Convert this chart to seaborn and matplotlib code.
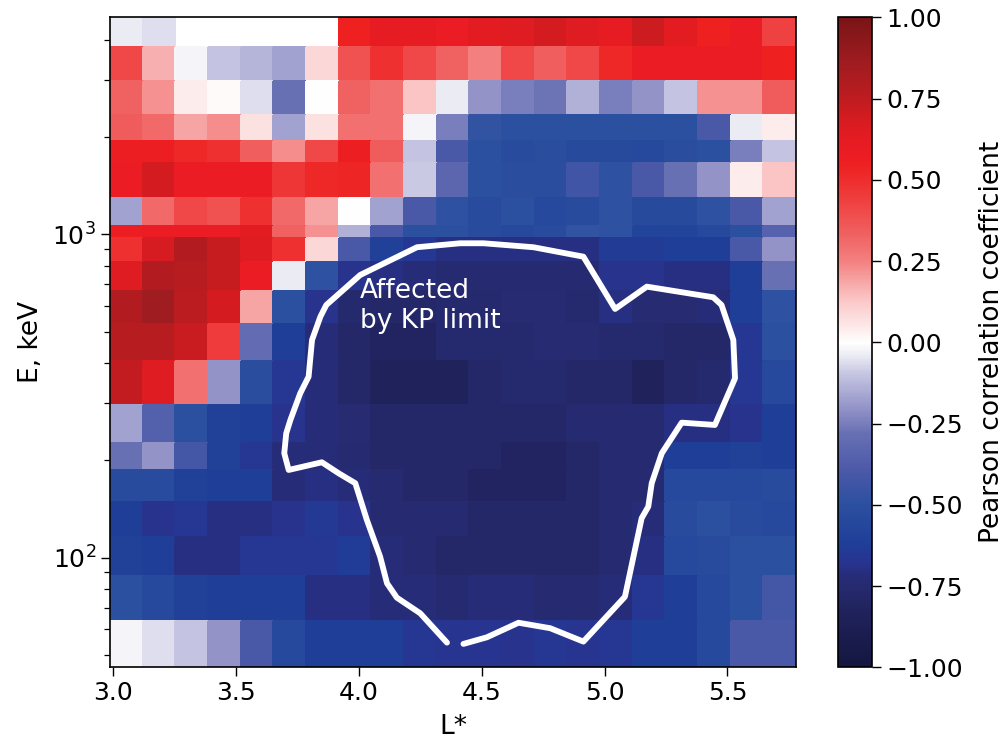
import numpy as np
import matplotlib
matplotlib.use("Agg")
import matplotlib.pyplot as plt
from matplotlib.colors import LinearSegmentedColormap
from matplotlib.ticker import FuncFormatter
import seaborn as sns

nan = np.nan

# L* bin edges (21 bins)
L_edges = [2.988, 3.121, 3.254, 3.387, 3.520, 3.653, 3.785, 3.918, 4.051, 4.184, 4.317,
           4.450, 4.583, 4.716, 4.849, 4.982, 5.115, 5.247, 5.380, 5.513, 5.646, 5.779]

# Energy channel edges in keV, from the highest channel down
E_edges = [4688, 3786, 2972, 2333, 1943, 1658, 1298, 1061, 976, 819, 668,
           528, 406, 296, 226, 187, 149, 116, 87.8, 63.7, 45.8]

# Pearson correlation per (energy channel, L* bin); rows follow E_edges (top row first)
corr = [
    [-0.04, -0.06, nan, nan, nan, nan, nan, 0.55, 0.61, 0.61, 0.58, 0.63, 0.65, 0.69, 0.65, 0.61, 0.71, 0.63, 0.55, 0.58, 0.43],
    [0.41, 0.17, -0.02, -0.10, -0.13, -0.17, 0.09, 0.38, 0.49, 0.41, 0.33, 0.25, 0.41, 0.34, 0.41, 0.52, 0.58, 0.58, 0.58, 0.58, 0.55],
    [0.33, 0.22, 0.04, 0.01, -0.06, -0.28, 0.00, 0.33, 0.29, 0.13, -0.04, -0.20, -0.25, -0.27, -0.14, -0.25, -0.20, -0.10, 0.22, 0.22, 0.35],
    [0.35, 0.31, 0.19, 0.23, 0.07, -0.17, 0.07, 0.29, 0.29, -0.02, -0.25, -0.48, -0.50, -0.50, -0.50, -0.50, -0.50, -0.50, -0.40, -0.04, 0.04],
    [0.56, 0.56, 0.52, 0.49, 0.34, 0.23, 0.41, 0.56, 0.35, -0.10, -0.40, -0.50, -0.53, -0.52, -0.54, -0.54, -0.55, -0.52, -0.50, -0.25, -0.10],
    [0.58, 0.69, 0.58, 0.58, 0.58, 0.47, 0.52, 0.53, 0.29, -0.09, -0.33, -0.50, -0.52, -0.52, -0.43, -0.49, -0.40, -0.28, -0.20, 0.04, 0.13],
    [-0.17, 0.31, 0.41, 0.38, 0.49, 0.31, 0.19, 0.00, -0.17, -0.40, -0.49, -0.53, -0.50, -0.55, -0.53, -0.49, -0.54, -0.54, -0.49, -0.40, -0.17],
    [0.56, 0.58, 0.58, 0.58, 0.63, 0.33, 0.22, -0.14, -0.40, -0.50, -0.50, -0.53, -0.55, -0.53, -0.48, -0.49, -0.58, -0.58, -0.55, -0.50, -0.35],
    [0.49, 0.68, 0.79, 0.73, 0.65, 0.49, 0.09, -0.40, -0.60, -0.66, -0.70, -0.70, -0.70, -0.70, -0.70, -0.64, -0.64, -0.62, -0.62, -0.40, -0.20],
    [0.65, 0.79, 0.77, 0.73, 0.58, -0.04, -0.49, -0.68, -0.70, -0.72, -0.75, -0.75, -0.75, -0.75, -0.75, -0.68, -0.68, -0.70, -0.70, -0.62, -0.28],
    [0.79, 0.86, 0.76, 0.69, 0.19, -0.50, -0.68, -0.76, -0.78, -0.78, -0.76, -0.76, -0.74, -0.74, -0.76, -0.70, -0.74, -0.74, -0.72, -0.62, -0.49],
    [0.77, 0.77, 0.72, 0.45, -0.30, -0.62, -0.72, -0.78, -0.81, -0.81, -0.76, -0.76, -0.76, -0.74, -0.74, -0.76, -0.76, -0.78, -0.78, -0.66, -0.50],
    [0.74, 0.65, 0.29, -0.20, -0.52, -0.66, -0.72, -0.78, -0.83, -0.83, -0.83, -0.78, -0.76, -0.76, -0.78, -0.78, -0.83, -0.78, -0.76, -0.66, -0.55],
    [-0.17, -0.36, -0.50, -0.60, -0.62, -0.68, -0.72, -0.74, -0.78, -0.78, -0.78, -0.78, -0.78, -0.78, -0.75, -0.75, -0.75, -0.70, -0.70, -0.68, -0.62],
    [-0.28, -0.20, -0.42, -0.60, -0.66, -0.72, -0.72, -0.75, -0.78, -0.78, -0.78, -0.78, -0.81, -0.81, -0.78, -0.75, -0.75, -0.62, -0.62, -0.60, -0.62],
    [-0.53, -0.53, -0.60, -0.62, -0.62, -0.72, -0.70, -0.72, -0.75, -0.78, -0.78, -0.81, -0.81, -0.81, -0.78, -0.75, -0.75, -0.55, -0.55, -0.55, -0.53],
    [-0.62, -0.68, -0.66, -0.70, -0.70, -0.68, -0.65, -0.68, -0.75, -0.75, -0.75, -0.78, -0.78, -0.78, -0.78, -0.75, -0.72, -0.53, -0.50, -0.53, -0.55],
    [-0.60, -0.62, -0.70, -0.70, -0.66, -0.66, -0.66, -0.63, -0.72, -0.75, -0.78, -0.78, -0.78, -0.78, -0.78, -0.75, -0.70, -0.55, -0.53, -0.50, -0.50],
    [-0.50, -0.55, -0.60, -0.62, -0.62, -0.62, -0.70, -0.70, -0.72, -0.72, -0.75, -0.72, -0.72, -0.75, -0.75, -0.72, -0.66, -0.62, -0.55, -0.50, -0.42],
    [-0.02, -0.06, -0.10, -0.20, -0.40, -0.55, -0.62, -0.62, -0.62, -0.66, -0.67, -0.67, -0.68, -0.66, -0.67, -0.66, -0.62, -0.62, -0.55, -0.40, -0.40],
]

# Outline of the region affected by the Kp limit
contour_L = [4.359, 4.250, 4.155, 4.115, 4.087, 4.033, 3.986, 3.918, 3.850, 3.715, 3.697,
             3.705, 3.722, 3.762, 3.796, 3.810, 3.844, 3.868, 4.006, 4.237, 4.413, 4.507,
             4.711, 4.914, 5.043, 5.172, 5.442, 5.476, 5.524, 5.531, 5.449, 5.314, 5.233,
             5.192, 5.178, 5.151, 5.083, 4.914, 4.779, 4.650, 4.521, 4.426]
contour_E = [54.6, 67.3, 75.2, 83.3, 100.7, 130.8, 169.9, 182.4, 197.2, 186.7, 210.3,
             242.4, 266.6, 322.3, 362.7, 471.2, 556.3, 604.4, 748.4, 911.8, 938.0, 938.0,
             911.8, 852.6, 587.5, 688.7, 638.6, 604.4, 471.2, 358.6, 257.2, 261.5, 210.3,
             169.9, 143.8, 132.4, 75.7, 55.0, 60.5, 62.9, 56.7, 54.1]

cbar_ticks = [-1.0, -0.75, -0.5, -0.25, 0.0, 0.25, 0.5, 0.75, 1.0]

sns.set_style("ticks")
plt.rcParams["font.family"] = ["DejaVu Sans"]
plt.rcParams["axes.edgecolor"] = "black"
plt.rcParams["xtick.color"] = "black"
plt.rcParams["ytick.color"] = "black"
plt.rcParams["axes.labelcolor"] = "black"
plt.rcParams["text.color"] = "black"

# Diverging navy - blue - white - red - dark red map
cmap_nodes = [
    (-1.00, "#141640"), (-0.83, "#20225c"), (-0.78, "#242868"), (-0.75, "#262a70"),
    (-0.72, "#262c78"), (-0.68, "#283490"), (-0.62, "#1f3e98"), (-0.50, "#2c50a0"),
    (-0.40, "#4a58a8"), (-0.28, "#6870b4"), (-0.20, "#9494c8"), (-0.10, "#c4c4e2"),
    (-0.04, "#ececf4"), (0.00, "#ffffff"), (0.04, "#fdecec"), (0.09, "#fcd8d8"),
    (0.13, "#fcc6c6"), (0.19, "#f6a4a4"), (0.25, "#f48080"), (0.33, "#f06262"),
    (0.41, "#f04848"), (0.49, "#ee3030"), (0.55, "#ee2020"), (0.58, "#ec1c24"),
    (0.63, "#e41c22"), (0.69, "#d41c20"), (0.77, "#b81c20"), (0.86, "#a01c20"),
    (1.00, "#7a1416"),
]
cmap = LinearSegmentedColormap.from_list(
    "corr_div", [((v + 1) / 2, c) for v, c in cmap_nodes], N=512)

W, H = 1005, 743
fig = plt.figure(figsize=(W / 100, H / 100), dpi=100)
ax_l, ax_r, ax_t, ax_b = 110, 796, 17.3, 667.3
ax = fig.add_axes([ax_l / W, (H - ax_b) / H, (ax_r - ax_l) / W, (ax_b - ax_t) / H])
cax = fig.add_axes([837.5 / W, (H - ax_b) / H, 34.5 / W, (ax_b - ax_t) / H])

Z = np.ma.masked_invalid(np.array(corr, dtype=float))
mesh = ax.pcolormesh(L_edges, E_edges, Z, cmap=cmap, vmin=-1, vmax=1,
                     shading="flat", edgecolors="face", linewidth=0.15)
ax.set_yscale("log")

sns.lineplot(x=contour_L, y=contour_E, sort=False, estimator=None,
             color="white", linewidth=4.2, ax=ax, legend=False)
ax.set_xlim(L_edges[0], L_edges[-1])
ax.set_ylim(E_edges[-1], E_edges[0])

ax.text(4.006, 513, "Affected\nby KP limit", color="white", fontsize=19,
        ha="left", va="baseline")

ax.set_xticks([3.0, 3.5, 4.0, 4.5, 5.0, 5.5])
ax.set_xticklabels(["3.0", "3.5", "4.0", "4.5", "5.0", "5.5"])
ax.tick_params(axis="both", which="major", labelsize=18, length=6.5, width=1.0, direction="out")
ax.tick_params(axis="both", which="minor", length=4, width=0.9, direction="out")
ax.set_xlabel("L*", fontsize=19, labelpad=6)
ax.set_ylabel("E, keV", fontsize=19, labelpad=6)
for s in ax.spines.values():
    s.set_linewidth(1.2)
    s.set_color("black")

cb = fig.colorbar(mesh, cax=cax)
cb.set_ticks(cbar_ticks)
cb.ax.yaxis.set_major_formatter(FuncFormatter(lambda v, _: f"{v:.2f}".replace("-", "\u2212")))
cb.ax.tick_params(labelsize=18, length=6.5, width=1.0)
cb.outline.set_linewidth(1.2)
cb.outline.set_edgecolor("black")
cb.set_label("Pearson correlation coefficient", fontsize=19, labelpad=12)

fig.savefig("out.png", dpi=100)
